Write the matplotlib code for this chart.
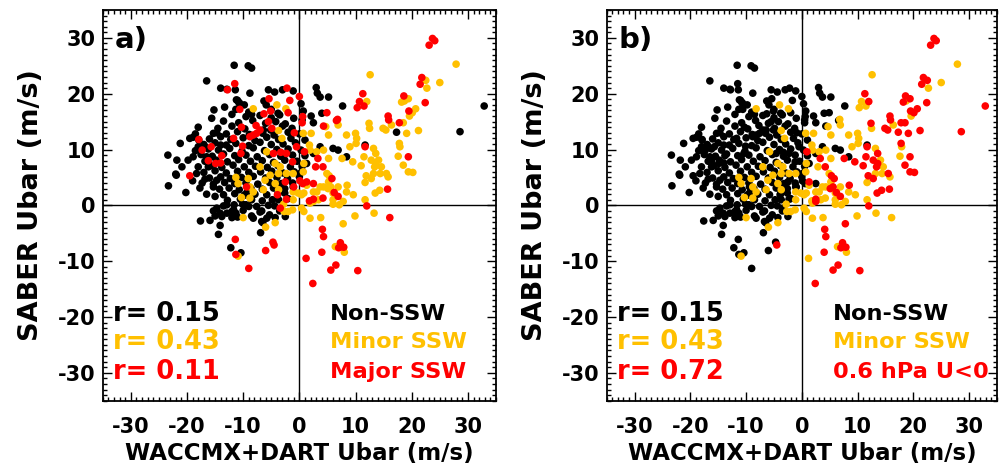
import matplotlib
matplotlib.use("Agg")
import matplotlib.pyplot as plt
from matplotlib.ticker import MultipleLocator
import numpy as np

plt.rcParams['font.family'] = ['DejaVu Sans']
plt.rcParams['font.weight'] = 'bold'
plt.rcParams['axes.unicode_minus'] = False

BLACK = '#000000'
GOLD = '#FFC000'
RED = '#FF0000'

# (WACCMX+DART Ubar, SABER Ubar), grouped by class in panel a -> panel b
# non-SSW in both panels
non_x = [-11.6, -9.1, -8.5, -16.5, -14.0, -12.9, -11.4, -8.8, -5.5, -4.4, -3.0, -1.1, 3.0, 3.2, 3.7, 5.2,
         7.7, -15.2, -13.3, -11.2, -10.7, -9.8, -18.0, -15.6, -15.3, -14.7, -19.5, -18.9, -21.2, -23.4,
         -21.8, -20.9, -19.8, -18.9, -23.3, -21.9, -20.2, -19.0, -18.3, -16.8, -16.5, -16.2, -16.8, -14.7,
         -15.3, -15.0, -15.3, -14.7, -14.1, -17.6, -15.9, -14.1, -12.9, -11.7, -9.4, -8.5, -7.6, -6.7,
         -5.8, -3.7, -2.6, -1.1, 0.1, 1.3, 2.5, 3.7, 6.0, 6.9, 8.4, 11.7,
         -15.0, -14.4, -12.9, -12.0, -11.3, -10.1, -9.5, -8.2, -6.7, -6.5, -6.9, -5.3, -4.4, -12.2, -10.4,
         1.9, 2.5, 0.3, 0.7, 2.1, 4.0, -6.3, -5.9, -5.0, -9.0, -8.5, -3.8, -11.0, -10.7, -11.3, -17.9,
         -18.5, -18.0, -22.0, -17.7, -14.0,
         -12.0, -9.5, -7.0, -5.0, -3.5, -1.0, -13.5, -10.8, -8.3, -6.0, -4.2, -2.5, 0.5,
         -14.5, -12.0, -9.7, -6.4, -5.1, -3.0, -1.3, -13.0, -11.0, -8.9, -6.5, -4.5, -2.0, 0.0,
         -16.0, -14.0, -12.2, -10.0, -7.9, -5.8, -3.7, -1.5, 1.0,
         -17.0, -15.0, -13.0, -11.3, -9.0, -7.0, -5.0, -2.9, -0.7,
         -18.5, -16.2, -14.4, -12.4, -10.2, -8.2, -6.2, -4.0, -2.0, 0.3,
         -17.5, -15.5, -13.5, -11.5, -9.5, -7.5, -5.3, -3.3, -1.2, 1.0,
         -16.8, -14.8, -12.8, -10.8, -8.7, -6.6, -4.6, -2.6, -0.4,
         -18.0, -15.8, -13.8, -11.8, -9.8, -7.8, -5.7, -3.8, -1.6, 0.5,
         -17.0, -15.0, -13.0, -11.0, -9.0, -6.9, -4.9, -2.9, -0.9,
         -16.0, -14.0, -12.3, -10.3, -8.2, -6.0, -4.0, -2.1, 0.0,
         -17.3, -15.3, -13.3, -11.5, -9.5, -7.4, -5.3, -3.2, -1.2,
         -14.2, -12.5, -10.7, -8.6, -6.6, -4.6, -2.6,
         -16.5, -13.5, -11.5, -9.8, -7.9, -5.8, -3.8,
         -12.8, -10.5, -6.6, -4.8, -2.0, -13.5, -11.6, -9.0, -5.5,
         -12.0, -10.0, -7.0, -3.5, -13.8, -11.0, -8.5, -4.3, -2.5]
non_y = [25.1, 25.0, 24.6, 22.3, 21.0, 20.8, 20.7, 20.1, 20.7, 20.3, 20.7, 20.5, 21.1, 20.1, 19.4, 19.4,
         17.8, 17.1, 17.6, 18.9, 18.3, 18.0, 14.0, 15.6, 12.9, 13.0, 12.0, 12.2, 11.1, 9.0,
         8.1, 6.9, 8.1, 8.7, 3.5, 5.4, 2.3, 4.4, 5.7, 10.5, 8.7, 6.9, 4.7, 4.5,
         3.3, 1.6, -1.0, -0.5, -1.4, -2.8, -2.7, -3.6, -1.4, -0.8, 2.2, 1.0, -0.2, -2.9,
         -2.3, 1.0, 2.2, 3.3, 5.7, 7.5, 9.3, 10.5, 10.2, 9.9, 8.7, 10.8,
         -1.9, -5.2, 0.1, -2.2, -1.4, 0.2, 0.1, -2.3, -1.0, -3.1, -4.9, -1.7, -0.1, -7.6, -8.5,
         0.7, 14.8, 18.2, 16.9, 16.0, 16.5, 18.7, 18.0, 17.2, 16.7, 16.3, 16.5, 18.8, 18.4, 17.2, 11.7,
         12.8, 10.5, 5.6, 3.1, 10.8,
         16.3, 15.9, 16.1, 15.7, 16.2, 15.6, 15.1, 14.8, 15.2, 14.7, 15.0, 14.6, 15.3,
         13.8, 14.2, 13.7, 13.5, 13.5, 14.2, 13.8, 12.8, 13.2, 12.7, 12.9, 12.6, 13.1, 12.8,
         11.9, 12.3, 11.8, 12.1, 11.6, 12.2, 11.8, 12.0, 11.7,
         10.9, 11.2, 10.8, 11.1, 10.7, 11.3, 10.9, 11.0, 11.2,
         9.8, 10.1, 9.9, 10.2, 9.7, 10.3, 9.8, 10.0, 10.1, 9.9,
         9.1, 8.8, 9.2, 8.9, 9.0, 8.7, 9.1, 8.8, 9.0, 8.9,
         7.9, 8.1, 7.8, 8.2, 7.9, 8.0, 7.7, 8.1, 7.9,
         6.9, 7.1, 6.8, 7.2, 6.9, 7.0, 6.8, 7.1, 6.9, 7.0,
         5.9, 6.2, 5.8, 6.1, 5.9, 6.0, 6.1, 5.8, 6.0,
         4.9, 5.1, 4.8, 5.0, 5.2, 4.9, 5.0, 4.8, 5.1,
         4.0, 3.8, 4.1, 3.9, 4.0, 3.8, 4.1, 3.9, 4.0,
         2.9, 3.1, 2.8, 3.0, 2.9, 3.1, 3.0,
         2.0, 1.9, 2.1, 1.8, 2.0, 1.9, 2.1,
         0.9, 1.1, 0.8, 1.0, 1.2, -0.1, 0.1, -0.2, 0.0,
         -1.1, -0.9, -1.2, -1.0, -2.0, -2.1, -1.9, -2.2, -2.0]

# major SSW in a -> non-SSW in b
maj_non_x = [-12.8, -11.5, -10.6, -5.4, -6.3, -5.1, -2.0, -2.2, 0.0, -1.7, 0.6, -19.5, -17.9, -17.3, -15.7,
             -16.2, -14.9, -14.0, -13.8, -11.7, -10.3, -10.1, -10.4, -8.8, -8.2, -7.6, -7.0, -7.7, -5.5,
             -4.9, 0.5, -0.9, -0.5, -4.6, -3.3, -2.3, -1.2, -2.5, -9.4, -1.0, -2.3, -3.9, -11.4, -11.3,
             -9.0, -6.0, -3.4, 4.9, 6.6, 4.3, 0.1, 0.6, 2.5, -4.7]
maj_non_y = [20.7, 21.8, 17.2, 19.1, 16.4, 16.9, 16.6, 21.0, 19.5, 18.8, 15.9, 5.3, 11.8, 9.9, 10.5,
             8.0, 7.5, 7.6, 8.9, 12.0, 14.0, 10.6, 9.3, 12.3, 12.6, 12.9, 13.5, 14.3, 15.0,
             13.8, 14.8, 13.0, 10.5, 9.3, 9.5, 9.3, 7.8, 4.2, 3.3, 3.3, 1.1, 1.9, -6.1, -8.8,
             -11.3, -8.1, -0.5, 16.6, 15.2, 14.2, 4.4, 3.9, 3.9, -6.6]

# minor SSW in both panels
min_x = [12.6, 27.9, 25.0, 22.7, 18.7, 19.6, 16.4, 12.5, 6.9, 4.7, 8.4, 10.0, 10.2, 10.1, 9.0, 13.2,
         14.1, 14.6, 15.8, 14.4, 13.2, 11.7, 11.7, 9.6, 8.4, 6.0, 6.9, 6.0, 7.8, 4.9, 5.2, 3.7, 2.5,
         0.8, 1.9, -0.2, -1.1, -2.8, -2.0, 0.4, 1.9, 17.9, 17.6,
         -10.0, -6.0, -4.3, -2.7, -1.2, 0.8, 3.8, 6.0, 7.1, 9.9, 13.3, 6.4, 8.0, -10.9,
         -11.3, -10.9, -9.1, -8.8, -8.2, -6.1, -6.4, -8.8, -10.3, -5.8, -4.3, -3.4, -3.7, -2.3, -1.1,
         0.7, 1.8, 1.9, 3.1, 4.3, 0.8, -3.1, -3.7, 0.7, 2.1, 1.3, 0.4, -1.1, -3.7, -4.3, -5.2, -7.0,
         4.3, 3.1, 3.4, 5.2, 5.2, -8.2, -4.0, -2.4]
min_y = [23.4, 25.3, 22.0, 21.0, 18.7, 16.0, 14.4, 13.8, 14.4, 14.1, 12.6, 12.9, 12.0, 11.1, 10.5, 10.2,
         8.1, 6.9, 5.1, 5.7, 5.7, 4.1, 1.0, 1.9, 2.4, 2.2, 3.3, 1.0, 0.7, 5.7, 4.2, 3.3, 2.4,
         2.2, 0.4, 2.2, 1.0, 0.2, -1.1, -0.5, -2.3, 10.5, 8.8,
         -2.2, -3.9, -3.1, -1.1, -0.8, -1.1, -2.2, 0.2, 0.1, -1.9, -1.4, -7.4, -8.4, -9.1,
         5.0, 3.9, 4.8, 3.3, 2.4, 4.5, 2.8, 1.3, 1.4, 9.6, 7.5, 6.9, 5.7, 5.7, 5.7,
         6.0, 10.8, 9.9, 9.6, 9.9, 7.5, 12.0, 13.4, 12.9, 12.9, 3.6, 1.9, 2.4, 2.8, 3.9, 5.4, 6.9,
         3.3, 2.4, 1.0, 8.4, 12.6, 17.3, 18.0, 17.3]

# major SSW in a -> minor SSW in b
maj_min_x = [10.7, 10.3, 11.5, 6.8, 16.1, 1.2, 2.9, 4.2, 1.8]
maj_min_y = [18.6, 17.5, 17.8, 15.4, -2.2, -9.5, 6.9, 1.3, 0.8]

# major SSW in a -> 0.6 hPa U<0 in b
maj_u0_x = [23.7, 24.1, 23.1, 21.8, 21.5, 11.3, 18.6, 22.4, 19.5, 15.8, 15.9, 17.8, 19.4, 11.7, 15.7,
            12.0, 5.8, 6.2, 6.9, 4.2, 3.3, 2.5, 1.3, 0.9, 4.1, 4.3, 4.0, 7.3, 7.5, 7.0, 7.9, 6.5,
            5.6, 10.4, 2.4, -4.5]
maj_u0_y = [29.9, 29.5, 28.7, 22.9, 21.7, 20.0, 19.6, 18.4, 16.9, 16.0, 15.3, 14.8, 8.7, 10.5, 2.9,
            -0.1, 4.8, 2.3, 1.6, 6.9, 8.4, 1.1, 4.2, 9.6, -4.3, -5.6, -8.4, -6.7, -7.4, -7.6, -7.5, -10.7,
            -11.6, -11.7, -14.0, -7.1]

# minor SSW in a -> 0.6 hPa U<0 in b
min_u0_x = [22.5, 12.0, 18.2, 19.4, 20.1, 20.7, 12.4, 14.9, 15.4, 18.5, 19.1, 17.8, 21.2, 18.5, 19.4,
            20.2, 11.5, 12.8, 13.4, 13.6, 13.6, 11.0, 11.9, 12.8, 15.5, 14.3, 13.5, 9.5, 7.6, 8.5,
            7.8, 5.3, 5.6, 5.1, 2.5]
min_u0_y = [22.4, 18.6, 18.5, 19.1, 16.6, 17.3, 14.7, 13.8, 13.5, 14.8, 12.9, 11.1, 13.4, 7.2, 6.0,
            5.9, 8.7, 8.1, 6.9, 9.3, 7.5, 7.1, 5.3, 4.8, 5.7, 2.7, 2.2, 7.8, 8.4, 3.6,
            -3.3, 5.3, 3.3, 3.0, 0.7]

# non-SSW in a -> 0.6 hPa U<0 in b
non_u0_x = [32.9, 28.6, 17.3]
non_u0_y = [17.8, 13.2, 13.1]

r_a = ['0.15', '0.43', '0.11']
r_b = ['0.15', '0.43', '0.72']
names_a = ['Non-SSW', 'Minor SSW', 'Major SSW']
names_b = ['Non-SSW', 'Minor SSW', '0.6 hPa U<0']
text_colors = [BLACK, GOLD, RED]


def draw_panel(ax, groups, tag, r_vals, names):
    for gx, gy, col in groups:
        ax.scatter(gx, gy, s=30, color=col, edgecolors='none', zorder=3)

    ax.axhline(0, color='k', lw=1, zorder=2)
    ax.axvline(0, color='k', lw=1, zorder=2)
    ax.set_xlim(-35, 35)
    ax.set_ylim(-35, 35)
    ax.xaxis.set_major_locator(MultipleLocator(10))
    ax.yaxis.set_major_locator(MultipleLocator(10))
    ax.xaxis.set_minor_locator(MultipleLocator(1))
    ax.yaxis.set_minor_locator(MultipleLocator(1))
    ax.tick_params(which='both', direction='in', top=True, right=True, width=1)
    ax.tick_params(which='major', length=6.5)
    ax.tick_params(which='minor', length=3.2)
    ax.tick_params(axis='x', which='major', pad=12, labelsize=15)
    ax.tick_params(axis='y', which='major', pad=5, labelsize=15)
    for lab in ax.get_xticklabels() + ax.get_yticklabels():
        lab.set_fontweight('bold')
    for sp in ax.spines.values():
        sp.set_linewidth(1.3)

    ax.set_xlabel('WACCMX+DART Ubar (m/s)', fontsize=16.5, fontweight='bold', labelpad=3)
    ax.set_ylabel('SABER Ubar (m/s)', fontsize=19.5, fontweight='bold', labelpad=10)

    ax.text(-32.8, 29.6, tag, fontsize=21, fontweight='bold', va='center', ha='left')

    ys = [-19.4, -24.5, -29.8]
    for yv, rv, nm, col in zip(ys, r_vals, names, text_colors):
        ax.text(-33.2, yv, 'r= ' + rv, fontsize=18.5, fontweight='bold', color=col,
                va='center', ha='left')
        ax.text(5.5, yv, nm, fontsize=16.2, fontweight='bold', color=col,
                va='center', ha='left')


fig = plt.figure(figsize=(10.03, 4.72), dpi=100)
ax1 = fig.add_axes([0.1024, 0.1511, 0.3921, 0.8277])
ax2 = fig.add_axes([0.6049, 0.1511, 0.3891, 0.8277])

# panel a: classes by SSW type
groups_a = [
    (non_x + non_u0_x, non_y + non_u0_y, BLACK),
    (min_x + min_u0_x, min_y + min_u0_y, GOLD),
    (maj_non_x + maj_min_x + maj_u0_x, maj_non_y + maj_min_y + maj_u0_y, RED),
]
# panel b: red is 0.6 hPa U<0
groups_b = [
    (non_x + maj_non_x, non_y + maj_non_y, BLACK),
    (min_x + maj_min_x, min_y + maj_min_y, GOLD),
    (maj_u0_x + min_u0_x + non_u0_x, maj_u0_y + min_u0_y + non_u0_y, RED),
]

draw_panel(ax1, groups_a, 'a)', r_a, names_a)
draw_panel(ax2, groups_b, 'b)', r_b, names_b)

fig.savefig('out.png', dpi=100)
